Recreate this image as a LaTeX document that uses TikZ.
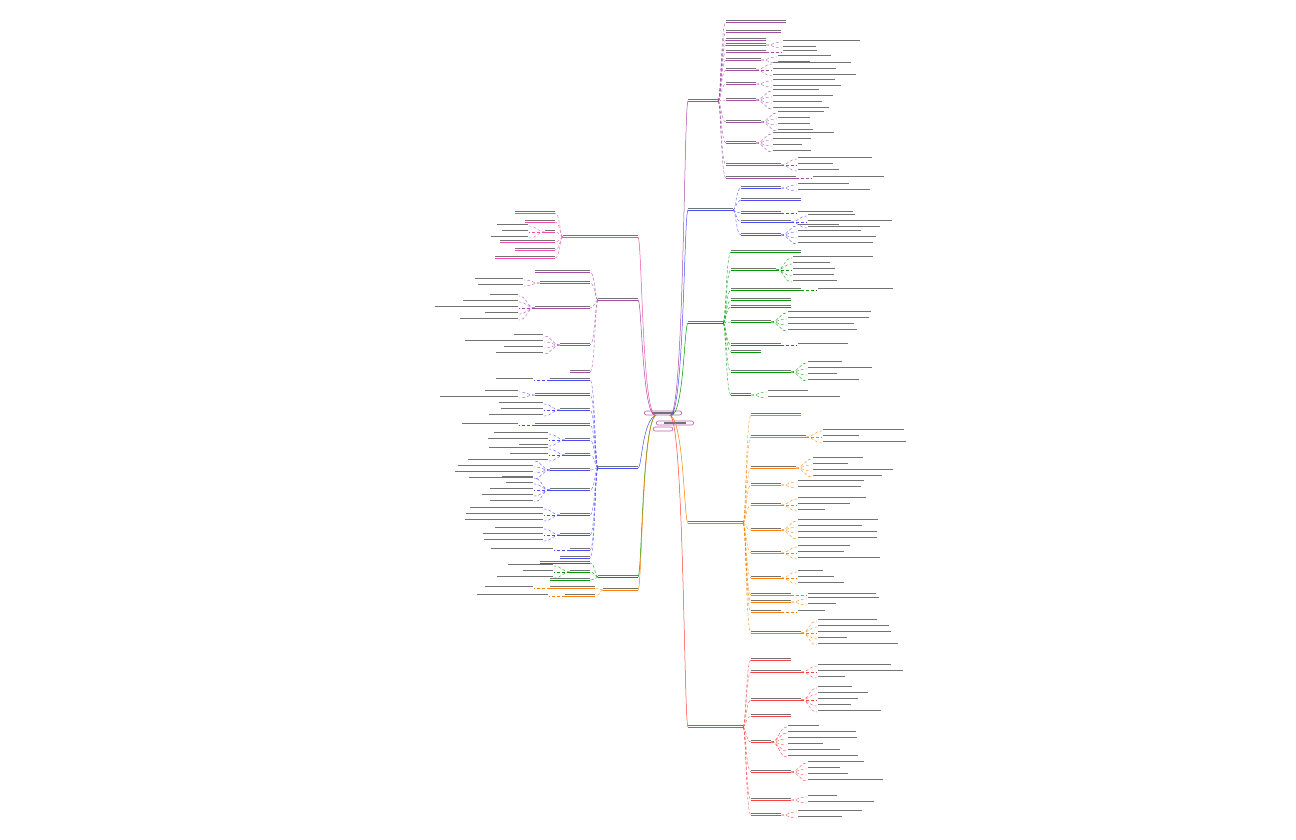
\documentclass[tikz,border=0pt]{standalone}
\begin{document}
\begin{tikzpicture}[x=1pt,y=-1pt,
  txt/.style={fill=black!55},
  conn/.style={line width=0.5pt},
  leafc/.style={line width=0.35pt,densely dashed}]
\useasboundingbox (0,0) rectangle (1296,840);
\pgfmathsetseed{7}
% #1 colour, #2 dir, #3 trunk x, #4 main y, #5 main width, #6 children cy/w/n
\newcommand\mybranch[6]{%
  \pgfmathsetmacro\Xa{#3+#2*4}
  \pgfmathsetmacro\Xb{#3+#2*(#5+10)}
  \coordinate (m-#4) at (\Xa,#4);
  \draw[#1,conn] (root) .. controls (#3,420) and (#3,#4) .. (m-#4);
  \fill[txt] (\Xa,#4-2.2) rectangle ++(#2*#5,1.6);
  \draw[#1,conn] (\Xa,#4) -- ++(#2*#5,0) coordinate (me-#4);
  \foreach \cy/\w/\n in {#6}{
    \pgfmathsetmacro\Cx{\Xb+#2*2}
    \coordinate (c-\cy) at (\Cx,\cy);
    \draw[#1,leafc] (me-#4) .. controls (\Xb-#2*3,#4) and (\Xb-#2*3,\cy) .. (c-\cy);
    \fill[txt] (\Cx,\cy-2.2) rectangle ++(#2*\w,1.6);
    \draw[#1,conn] (\Cx,\cy) -- ++(#2*\w,0) coordinate (ce-\cy);
    \ifnum\n>0
      \pgfmathsetmacro\Lx{\Cx+#2*(\w+16)}
      \foreach \k in {1,...,\n}{
        \pgfmathsetmacro\ly{\cy+(\k-(\n+1)/2)*6}
        \pgfmathsetmacro\lw{25+rnd*60}
        \coordinate (l-\cy-\k) at (\Lx,\ly);
        \draw[#1,leafc] (ce-\cy) .. controls (\Lx-#2*8,\cy) and (\Lx-#2*8,\ly) .. (l-\cy-\k);
        \fill[txt] (\Lx+#2*1,\ly-2) rectangle ++(#2*\lw,1.4);
      }
    \fi
  }
}
\node[draw=violet!60,rounded corners=2pt,line width=0.6pt,inner sep=1pt,font=\fontsize{3}{3}\selectfont] (root) at (663,413) {\phantom{XXXXXXXXXXXX}};
\fill[txt] (652,412) rectangle (674,413.5);
\node[draw=violet!60,rounded corners=2pt,line width=0.6pt,inner sep=1pt,font=\fontsize{3}{3}\selectfont] (r2) at (675,423) {\phantom{XXXXXXXXXXXX}};
\fill[txt] (664,422) rectangle (686,423.5);
\node[draw=violet!60,rounded corners=2pt,line width=0.6pt,inner sep=1pt,font=\fontsize{3}{3}\selectfont] (r3) at (663,429) {\phantom{XXXXXX}};
% right
\mybranch{violet!70}{1}{684}{101}{30}{22/60/0,32/55/0,40/40/0,45/40/2,52/40/1,60/35/2,70/30/3,84/30/2,100/30/4,122/35/4,143/30/4,165/55/3,178/70/1}
\mybranch{blue!70}{1}{684}{210}{45}{188/40/2,200/60/0,213/40/1,222/50/3,235/40/4}
\mybranch{green!60!black}{1}{684}{323}{35}{252/70/0,270/45/5,290/70/1,300/60/0,307/60/0,322/40/4,345/50/1,352/30/0,372/60/4,395/20/2}
\mybranch{orange}{1}{684}{523}{55}{415/50/0,437/55/3,468/45/4,485/30/2,505/30/3,530/30/4,553/30/3,578/30/3,595/40/1,602/40/2,612/30/1,633/50/5}
\mybranch{red!75}{1}{684}{727}{55}{660/40/0,672/50/3,700/50/5,716/40/0,742/20/6,772/40/4,800/40/2,815/30/2}
% left
\mybranch{magenta!70}{-1}{642}{237}{75}{213/40/0,222/30/0,232/10/3,242/55/0,250/40/0,258/60/0}
\mybranch{violet!70}{-1}{642}{300}{40}{272/55/0,283/50/2,308/55/5,345/30/4,372/20/0}
\mybranch{blue!70}{-1}{642}{468}{40}{380/40/1,395/55/2,410/30/3,425/55/1,440/25/3,455/25/3,470/40/4,490/40/5,515/30/3,535/30/3,550/20/1,558/30/0}
\mybranch{green!60!black}{-1}{642}{577}{40}{563/50/0,572/20/3,580/40/0}
\mybranch{orange}{-1}{642}{590}{35}{588/45/1,596/30/1}
\end{tikzpicture}
\end{document}
